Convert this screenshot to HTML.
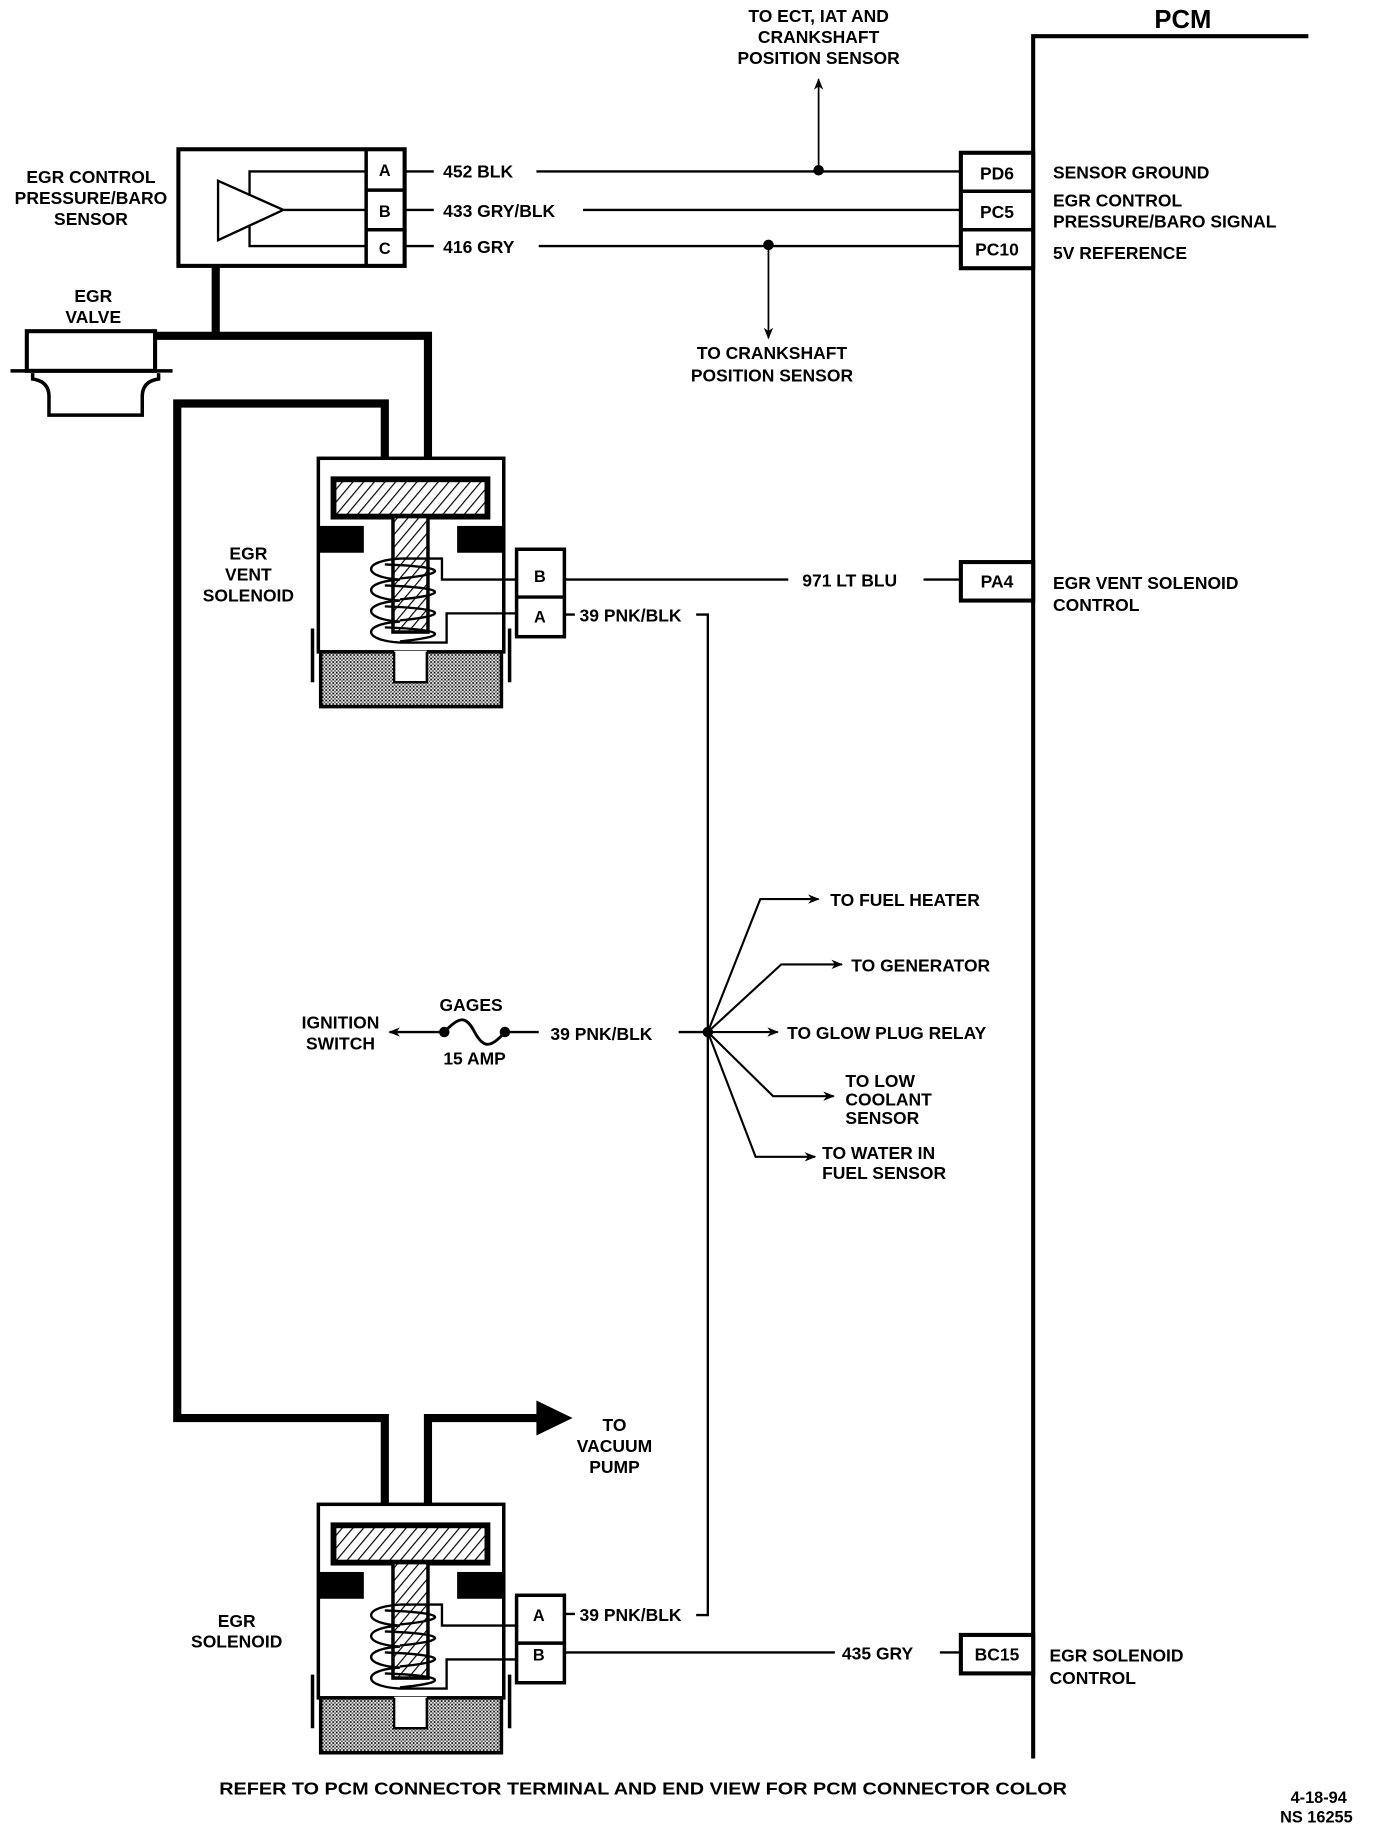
<!DOCTYPE html>
<html><head><meta charset="utf-8"><style>
html,body{margin:0;padding:0;background:#fff;}
svg{display:block;}
text{font-family:"Liberation Sans",sans-serif;font-weight:bold;font-size:15px;fill:#000;}
</style></head><body>
<svg width="1376" height="1832" viewBox="0 0 1180 1571" preserveAspectRatio="none" xmlns="http://www.w3.org/2000/svg">
<defs>
<pattern id="hatch" width="7" height="7" patternUnits="userSpaceOnUse" patternTransform="rotate(40)">
<rect width="7" height="7" fill="#fff"/><line x1="0" y1="0" x2="0" y2="7" stroke="#000" stroke-width="2"/>
</pattern>
<pattern id="stip" width="3" height="3" patternUnits="userSpaceOnUse">
<rect width="3" height="3" fill="#fff"/><rect width="1.5" height="1.5" fill="#000"/><rect x="1.5" y="1.5" width="1.5" height="1.5" fill="#555"/>
</pattern>
<marker id="ah" markerWidth="10" markerHeight="8" refX="9" refY="4" orient="auto" markerUnits="userSpaceOnUse">
<path d="M0,0 L10,4 L0,8 L3,4 Z" fill="#000"/>
</marker>
<g id="sol">
<rect x="273" y="393" width="159" height="166" fill="#fff" stroke="#000" stroke-width="3"/>
<rect x="286" y="411" width="132" height="32" fill="url(#hatch)" stroke="#000" stroke-width="5"/>
<rect x="337" y="443" width="30" height="99" fill="url(#hatch)" stroke="#000" stroke-width="3"/>
<rect x="273" y="451" width="39" height="23" fill="#000"/>
<rect x="392" y="451" width="40" height="23" fill="#000"/>
<path d="M343,479 C310,481 310,495 343,497 C310,499 310,513 343,515 C310,517 310,531 343,533 C310,535 310,549 343,551 L383,551 L383,526 L443,526" fill="none" stroke="#000" stroke-width="2"/>
<path d="M330,484 C385,486 385,492 343,496 M330,502 C385,504 385,510 343,514 M330,520 C385,522 385,528 343,532 M330,538 C385,540 385,546 343,550" fill="none" stroke="#000" stroke-width="2"/>
<path d="M343,479 L379,479 L379,497 L443,497" fill="none" stroke="#000" stroke-width="2"/>
<path d="M275,559 L430,559 L430,606 L275,606 Z" fill="url(#stip)" stroke="#000" stroke-width="3"/>
<rect x="338" y="558" width="28" height="27" fill="#fff"/>
<path d="M338,559 L338,585 L366,585 L366,559" fill="none" stroke="#000" stroke-width="2"/>
<path d="M268,539 L268,585 M437,539 L437,585" stroke="#000" stroke-width="3"/>
<rect x="443" y="471" width="41" height="75" fill="#fff" stroke="#000" stroke-width="3"/>
<line x1="443" y1="512" x2="484" y2="512" stroke="#000" stroke-width="3"/>
</g>
</defs>

<!-- PCM -->
<path d="M886,1508 L886,31 L1122,31" fill="none" stroke="#000" stroke-width="3.5"/>
<text x="990" y="24" style="font-size:22px">PCM</text>

<!-- top label -->
<text x="702" y="19" text-anchor="middle">TO ECT, IAT AND</text>
<text x="702" y="37" text-anchor="middle">CRANKSHAFT</text>
<text x="702" y="55" text-anchor="middle">POSITION SENSOR</text>
<line x1="702" y1="145" x2="702" y2="68" stroke="#000" stroke-width="1.5" marker-end="url(#ah)"/>

<!-- sensor -->
<rect x="153" y="128" width="194" height="100" fill="#fff" stroke="#000" stroke-width="3.5"/>
<rect x="314" y="128" width="33" height="100" fill="none" stroke="#000" stroke-width="3"/>
<line x1="314" y1="163" x2="347" y2="163" stroke="#000" stroke-width="3"/>
<line x1="314" y1="197" x2="347" y2="197" stroke="#000" stroke-width="3"/>
<text x="330" y="151" text-anchor="middle" style="font-size:14px">A</text>
<text x="330" y="186" text-anchor="middle" style="font-size:14px">B</text>
<text x="330" y="218" text-anchor="middle" style="font-size:14px">C</text>
<path d="M187,155 L187,206 L243,180 Z" fill="#fff" stroke="#000" stroke-width="2"/>
<path d="M243,180 L314,180 M314,147 L214,147 L214,168 M314,211 L214,211 L214,193" fill="none" stroke="#000" stroke-width="2"/>
<text x="78" y="157" text-anchor="middle">EGR CONTROL</text>
<text x="78" y="175" text-anchor="middle">PRESSURE/BARO</text>
<text x="78" y="193" text-anchor="middle">SENSOR</text>

<!-- wires -->
<g stroke="#000" stroke-width="2" fill="none">
<path d="M347,147 L372,147 M460,147 L823,147"/>
<path d="M347,180 L372,180 M500,180 L823,180"/>
<path d="M347,211 L372,211 M462,211 L823,211"/>
</g>
<text x="380" y="152">452 BLK</text>
<text x="380" y="186">433 GRY/BLK</text>
<text x="380" y="217">416 GRY</text>
<circle cx="702" cy="146" r="4.5"/>
<circle cx="659" cy="210" r="4.5"/>
<line x1="659" y1="210" x2="659" y2="290" stroke="#000" stroke-width="1.5" marker-end="url(#ah)"/>
<text x="662" y="308" text-anchor="middle">TO CRANKSHAFT</text>
<text x="662" y="327" text-anchor="middle">POSITION SENSOR</text>

<!-- PCM pins -->
<rect x="824" y="131" width="62" height="99" fill="#fff" stroke="#000" stroke-width="3.5"/>
<line x1="824" y1="164" x2="886" y2="164" stroke="#000" stroke-width="3"/>
<line x1="824" y1="197" x2="886" y2="197" stroke="#000" stroke-width="3"/>
<text x="855" y="154" text-anchor="middle">PD6</text>
<text x="855" y="187" text-anchor="middle">PC5</text>
<text x="855" y="219" text-anchor="middle">PC10</text>
<text x="903" y="153">SENSOR GROUND</text>
<text x="903" y="177">EGR CONTROL</text>
<text x="903" y="195">PRESSURE/BARO SIGNAL</text>
<text x="903" y="222">5V REFERENCE</text>

<!-- EGR valve -->
<text x="80" y="259" text-anchor="middle">EGR</text>
<text x="80" y="277" text-anchor="middle">VALVE</text>
<rect x="23" y="284" width="110" height="34" fill="#fff" stroke="#000" stroke-width="3.5"/>
<line x1="9" y1="318" x2="148" y2="318" stroke="#000" stroke-width="3"/>
<path d="M28,320 L28,325 Q42,327 42,340 L42,356 L122,356 L122,340 Q122,327 136,325 L136,320" fill="none" stroke="#000" stroke-width="3"/>

<!-- vacuum tubes -->
<g stroke="#000" stroke-width="7" fill="none">
<path d="M185,228 L185,288 M133,288 L367,288 L367,411"/>
<path d="M330,393 L330,346 L152,346 L152,1216 L330,1216 L330,1307"/>
<path d="M367,1290 L367,1216 L462,1216"/>
</g>
<path d="M460,1201 L491,1216 L460,1231 Z" fill="#000"/>
<text x="527" y="1227" text-anchor="middle">TO</text>
<text x="527" y="1245" text-anchor="middle">VACUUM</text>
<text x="527" y="1263" text-anchor="middle">PUMP</text>

<!-- vent solenoid -->
<use href="#sol"/>
<text x="463" y="499" text-anchor="middle" style="font-size:14px">B</text>
<text x="463" y="534" text-anchor="middle" style="font-size:14px">A</text>
<text x="213" y="480" text-anchor="middle">EGR</text>
<text x="213" y="498" text-anchor="middle">VENT</text>
<text x="213" y="516" text-anchor="middle">SOLENOID</text>
<path d="M484,497 L676,497 M792,497 L823,497" stroke="#000" stroke-width="2" fill="none"/>
<text x="688" y="503">971 LT BLU</text>
<rect x="824" y="482" width="62" height="33" fill="#fff" stroke="#000" stroke-width="3.5"/>
<text x="855" y="504" text-anchor="middle">PA4</text>
<text x="903" y="505">EGR VENT SOLENOID</text>
<text x="903" y="524">CONTROL</text>
<path d="M484,527 L493,527 M597,527 L607,527 L607,1385 L597,1385 M484,1384 L493,1384" stroke="#000" stroke-width="2" fill="none"/>
<text x="497" y="533">39 PNK/BLK</text>

<!-- middle -->
<text x="292" y="882" text-anchor="middle">IGNITION</text>
<text x="292" y="900" text-anchor="middle">SWITCH</text>
<line x1="378" y1="885" x2="334" y2="885" stroke="#000" stroke-width="2" marker-end="url(#ah)"/>
<circle cx="381" cy="885" r="4.5"/><circle cx="433" cy="885" r="4.5"/>
<path d="M381,885 C395,870 400,872 407,885 C414,898 420,900 433,885" fill="none" stroke="#000" stroke-width="2.5"/>
<line x1="433" y1="885" x2="462" y2="885" stroke="#000" stroke-width="2"/>
<text x="404" y="867" text-anchor="middle">GAGES</text>
<text x="407" y="913" text-anchor="middle">15 AMP</text>
<text x="472" y="892">39 PNK/BLK</text>
<line x1="582" y1="885" x2="607" y2="885" stroke="#000" stroke-width="2"/>
<circle cx="607" cy="885" r="4.5"/>
<g stroke="#000" stroke-width="1.8" fill="none">
<path d="M607,885 L652,771 L702,771" marker-end="url(#ah)"/>
<path d="M607,885 L670,827 L722,827" marker-end="url(#ah)"/>
<path d="M607,885 L667,885" marker-end="url(#ah)"/>
<path d="M607,885 L663,940 L715,940" marker-end="url(#ah)"/>
<path d="M607,885 L648,992 L699,992" marker-end="url(#ah)"/>
</g>
<text x="712" y="777">TO FUEL HEATER</text>
<text x="730" y="833">TO GENERATOR</text>
<text x="675" y="891">TO GLOW PLUG RELAY</text>
<text x="725" y="932">TO LOW</text>
<text x="725" y="948">COOLANT</text>
<text x="725" y="964">SENSOR</text>
<text x="705" y="994">TO WATER IN</text>
<text x="705" y="1011">FUEL SENSOR</text>

<!-- EGR solenoid -->
<use href="#sol" transform="translate(0,897)"/>
<text x="462" y="1390" text-anchor="middle" style="font-size:14px">A</text>
<text x="462" y="1424" text-anchor="middle" style="font-size:14px">B</text>
<text x="203" y="1395" text-anchor="middle">EGR</text>
<text x="203" y="1413" text-anchor="middle">SOLENOID</text>
<text x="497" y="1390">39 PNK/BLK</text>
<path d="M484,1417 L716,1417 M806,1417 L823,1417" stroke="#000" stroke-width="2" fill="none"/>
<text x="722" y="1423">435 GRY</text>
<rect x="824" y="1402" width="62" height="33" fill="#fff" stroke="#000" stroke-width="3.5"/>
<text x="855" y="1424" text-anchor="middle">BC15</text>
<text x="900" y="1425">EGR SOLENOID</text>
<text x="900" y="1444">CONTROL</text>

<text x="188" y="1539" textLength="727" lengthAdjust="spacingAndGlyphs">REFER TO PCM CONNECTOR TERMINAL AND END VIEW FOR PCM CONNECTOR COLOR</text>
<text x="1155" y="1546" text-anchor="end" style="font-size:14px">4-18-94</text>
<text x="1160" y="1563" text-anchor="end" style="font-size:14px">NS 16255</text>
</svg>
</body></html>
